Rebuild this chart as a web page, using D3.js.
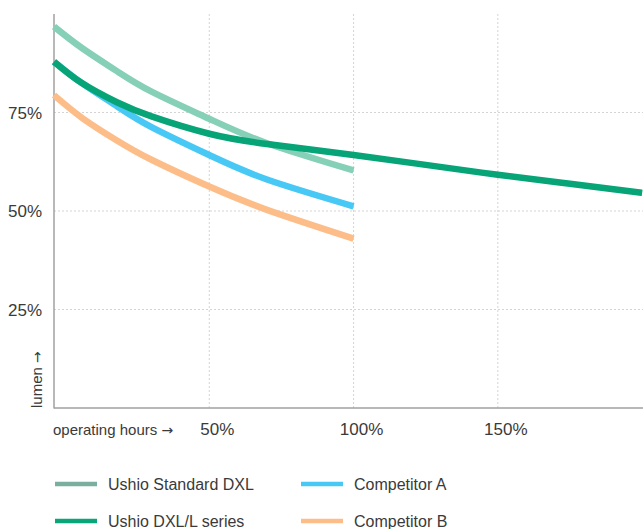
<!DOCTYPE html>
<html>
<head>
<meta charset="utf-8">
<script src="https://cdn.jsdelivr.net/npm/d3@7"></script>
<style>
  html, body { margin: 0; padding: 0; background: #fff; }
  svg { display: block; font-family: "Liberation Sans", Arial, sans-serif; }
</style>
</head>
<body>
<svg id="chart" width="643" height="529"></svg>
<script>
// ---- data (percent of rated life vs. percent lumen) ----
const seriesNames = ["Ushio Standard DXL", "Ushio DXL/L series", "Competitor A", "Competitor B"];
const hoursShort = [-3.8, 6, 18, 30, 50, 70, 100];
const hoursLong  = [-3.8, 6, 18, 30, 50, 70, 100, 125, 150, 175, 200];
const standardDXL = [96.8, 91.3, 85.5, 80.3, 73.4, 67.2, 60.3];
const dxlLSeries  = [87.9, 82.4, 77.6, 74.0, 69.6, 67.0, 64.2, 61.7, 59.2, 56.9, 54.6];
const competitorA = [87.9, 82.4, 76.6, 71.3, 64.2, 58.0, 51.2];
const competitorB = [79.4, 73.6, 67.9, 63.0, 56.2, 50.3, 43.0];
const xTicks = [50, 100, 150];
const xTickLabels = ["50%", "100%", "150%"];
const yTicks = [25, 50, 75];
const yTickLabels = ["25%", "50%", "75%"];
const lineColors = ["#85d0b6", "#06a477", "#48c8f4", "#fdbd88"];
const legendColors = ["#7aaf9f", "#0aa67a", "#48c8f4", "#fdbd88"];

const seriesData = [
  hoursShort.map((h, i) => [h, standardDXL[i]]),
  hoursLong.map((h, i) => [h, dxlLSeries[i]]),
  hoursShort.map((h, i) => [h, competitorA[i]]),
  hoursShort.map((h, i) => [h, competitorB[i]])
];

const svg = d3.select("#chart");
const pLeft = 54, pRight = 643, pTop = 14, pBottom = 408;

const x = d3.scaleLinear().domain([-3.8, 200.3]).range([pLeft, pRight]);
const y = d3.scaleLinear().domain([0, 100]).range([pBottom, pTop]);

// grid
const grid = svg.append("g");
grid.selectAll("line.h").data(yTicks).join("line")
  .attr("class", "h")
  .attr("x1", pLeft).attr("x2", pRight)
  .attr("y1", d => y(d)).attr("y2", d => y(d))
  .attr("stroke", "#d4d4d4").attr("stroke-width", 1).attr("stroke-dasharray", "2,2");
grid.selectAll("line.v").data(xTicks).join("line")
  .attr("class", "v")
  .attr("x1", d => x(d)).attr("x2", d => x(d))
  .attr("y1", pTop).attr("y2", pBottom)
  .attr("stroke", "#d4d4d4").attr("stroke-width", 1).attr("stroke-dasharray", "2,2");

// axes lines
svg.append("line").attr("x1", pLeft).attr("x2", pLeft).attr("y1", pTop).attr("y2", pBottom + 0.5)
  .attr("stroke", "#a0a0a0").attr("stroke-width", 1.5);
svg.append("line").attr("x1", pLeft).attr("x2", pRight).attr("y1", pBottom).attr("y2", pBottom)
  .attr("stroke", "#a0a0a0").attr("stroke-width", 1.5);

// series lines
const line = d3.line().x(d => x(d[0])).y(d => y(d[1])).curve(d3.curveNatural);
const order = [0, 2, 3, 1];
svg.append("g").selectAll("path").data(order).join("path")
  .attr("d", i => line(seriesData[i]))
  .attr("fill", "none")
  .attr("stroke", i => lineColors[i])
  .attr("stroke-width", 6.5)
  .attr("stroke-linecap", "butt");

// y tick labels
svg.append("g").selectAll("text").data(yTicks).join("text")
  .attr("x", 42).attr("y", d => y(d)).attr("dy", "0.36em")
  .attr("text-anchor", "end")
  .attr("font-size", 17).attr("fill", "#3a3a3a")
  .text((d, i) => yTickLabels[i]);

// x tick labels
svg.append("g").selectAll("text").data(xTicks).join("text")
  .attr("x", d => x(d) + 8).attr("y", 435)
  .attr("text-anchor", "middle")
  .attr("font-size", 17).attr("fill", "#3a3a3a")
  .text((d, i) => xTickLabels[i]);

// axis titles
const xt = svg.append("text").attr("x", 53).attr("y", 435)
  .attr("font-size", 15).attr("fill", "#3a3a3a");
xt.append("tspan").text("operating hours ");
xt.append("tspan").attr("font-family", "DejaVu Sans").attr("font-size", 14).text("\u2192");

const yt = svg.append("text").attr("transform", "translate(42,408) rotate(-90)")
  .attr("font-size", 15).attr("fill", "#3a3a3a");
yt.append("tspan").text("lumen ");
yt.append("tspan").attr("font-family", "DejaVu Sans").attr("font-size", 14).text("\u2192");

// legend
const legendPos = [[55, 484], [55, 521], [301, 484], [301, 521]];
const lg = svg.append("g").selectAll("g").data(seriesNames).join("g")
  .attr("transform", (d, i) => `translate(${legendPos[i][0]},${legendPos[i][1]})`);
lg.append("line").attr("x1", 0).attr("x2", 42).attr("y1", 0).attr("y2", 0)
  .attr("stroke", (d, i) => legendColors[i]).attr("stroke-width", 4.5);
lg.append("text").attr("x", 53).attr("y", 5.5)
  .attr("font-size", 16).attr("fill", "#3a3a3a")
  .text(d => d);
</script>
</body>
</html>
